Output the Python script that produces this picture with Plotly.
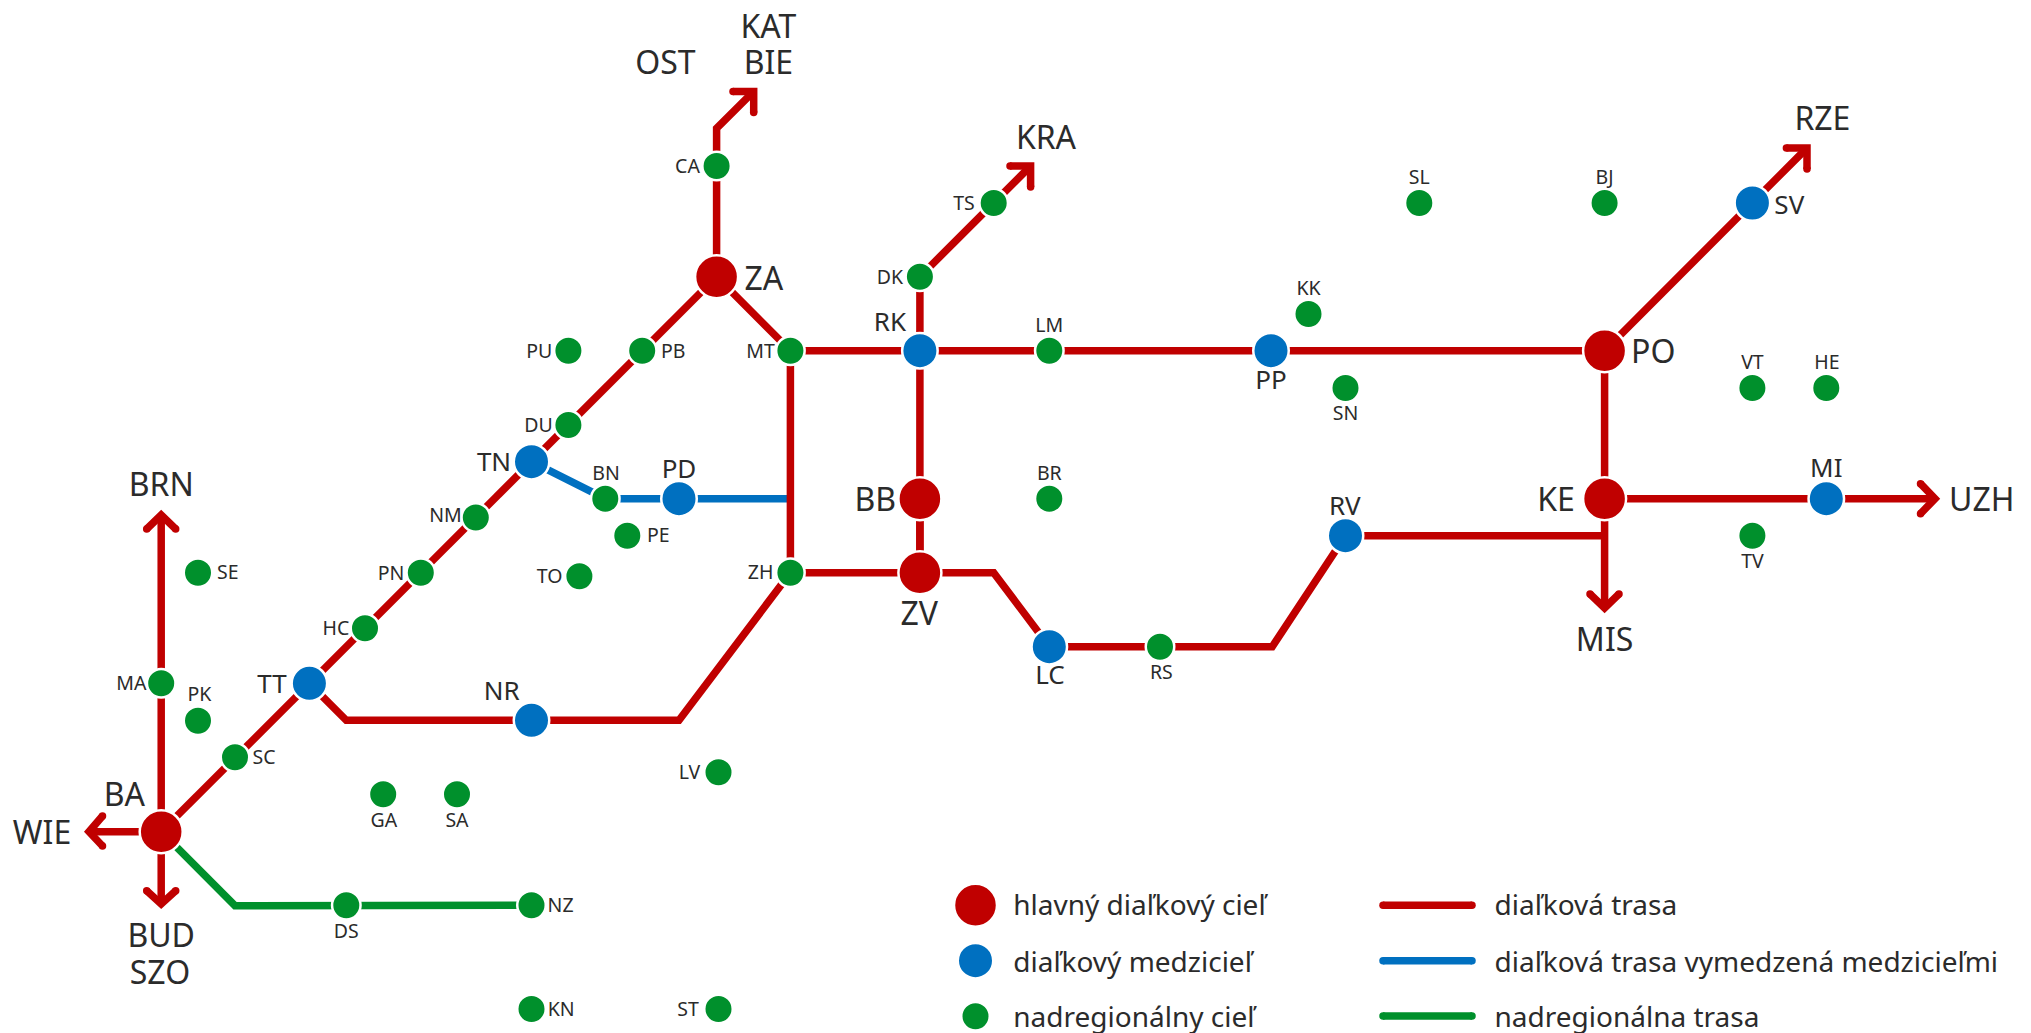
import plotly.graph_objects as go

RED, BLUE, GREEN, INK = "#C00000", "#0070C0", "#00902C", "#2B2B2B"
FONT = "Noto Sans"

# --- nodes: code, x, y (map coordinates)
main_names = ["BA", "ZA", "BB", "ZV", "PO", "KE"]
main_x = [161.2, 716.6, 919.9, 919.9, 1604.6, 1604.6]
main_y = [831.7, 276.7, 498.7, 572.7, 350.7, 498.7]

mid_names = ["TT", "TN", "PD", "NR", "RK", "PP", "LC", "RV", "SV", "MI"]
mid_x = [309.4, 531.5, 679.0, 531.5, 919.9, 1271.0, 1049.3, 1345.5, 1752.4, 1826.3]
mid_y = [683.3, 461.7, 498.7, 720.3, 350.7, 350.7, 646.7, 535.7, 203.0, 498.7]

reg_names = ["CA", "TS", "DK", "PU", "PB", "MT", "DU", "BN", "NM", "PN", "HC", "SC", "MA", "PK", "SE",
             "PE", "TO", "ZH", "LV", "GA", "SA", "DS", "NZ", "KN", "ST", "LM", "BR", "RS", "KK", "SN",
             "SL", "BJ", "VT", "HE", "TV"]
reg_x = [716.6, 993.7, 919.9, 568.4, 642.2, 790.4, 568.4, 605.3, 475.8, 420.8, 365.0, 235.0, 161.2, 198.0, 198.0,
         627.3, 579.4, 790.4, 718.5, 383.2, 457.0, 346.3, 531.5, 531.5, 718.5, 1049.3, 1049.3, 1160.0, 1308.5, 1345.5,
         1419.3, 1604.6, 1752.4, 1826.3, 1752.4]
reg_y = [166.0, 203.0, 276.7, 350.7, 350.7, 350.7, 425.0, 498.7, 517.5, 572.7, 628.3, 757.3, 683.3, 720.7, 572.7,
         535.7, 576.3, 572.7, 772.3, 794.3, 794.3, 905.3, 905.3, 1009.0, 1009.0, 350.7, 498.7, 646.7, 314.0, 388.0,
         203.0, 203.0, 388.0, 388.0, 535.7]

# --- routes (None separates polylines)
red_x = [161.2, 716.6, None, 716.6, 716.6, 753.7, None, 716.6, 790.4, 790.4, 679.0, 346.3, 309.4, None,
         790.4, 1604.6, 1807.0, None, 919.9, 919.9, 1030.6, None, 919.9, 919.9, None,
         790.4, 919.9, 993.7, 1049.3, 1272.2, 1345.5, 1604.6, None, 1604.6, 1604.6, None,
         1604.6, 1935.0, None, 161.2, 161.2, None, 161.2, 89.0, None, 161.2, 161.2]
red_y = [831.7, 276.7, None, 276.7, 128.4, 91.4, None, 276.7, 350.7, 572.7, 720.3, 720.3, 683.3, None,
         350.7, 350.7, 148.0, None, 572.7, 276.7, 166.0, None, 498.7, 572.7, None,
         572.7, 572.7, 572.7, 646.7, 646.7, 535.7, 535.7, None, 350.7, 608.0, None,
         498.7, 498.7, None, 831.7, 515.0, None, 831.7, 831.7, None, 831.7, 904.0]
blue_x = [531.5, 605.3, 679.0, 790.4]
blue_y = [461.7, 498.7, 498.7, 498.7]
green_x = [161.2, 235.0, 531.5]
green_y = [831.7, 905.7, 905.3]

# --- arrow heads: barb, tip, barb
head_x = [[733.0, 753.7, 753.7], [1010.0, 1030.6, 1030.6], [1786.4, 1807.0, 1807.0], [1920.5, 1935.0, 1920.5],
          [1590.0, 1604.6, 1619.0], [146.7, 161.2, 175.7], [102.5, 89.0, 102.5], [146.7, 161.2, 175.7]]
head_y = [[91.4, 91.4, 112.4], [166.0, 166.0, 187.0], [148.0, 148.0, 169.0], [483.7, 498.7, 513.7],
          [594.0, 608.0, 594.0], [529.0, 515.0, 529.0], [816.0, 831.7, 846.0], [890.7, 904.0, 890.7]]

# --- labels
big_text = ["KAT", "BIE", "OST", "ZA", "RK", "TN", "PD", "BB", "BRN", "KRA", "RZE", "PP", "PO", "RV", "KE", "MI", "UZH",
            "ZV", "TT", "NR", "BA", "WIE", "BUD", "SZO", "MIS", "LC", "SV"]
big_x = [768.4, 768.4, 665.5, 763.8, 890.0, 494.0, 679.0, 875.2, 161.2, 1046.0, 1822.4, 1271.0, 1653.2, 1344.8, 1556.0,
         1826.3, 1981.8, 919.2, 271.9, 501.7, 124.3, 42.0, 161.2, 159.9, 1604.6, 1050.0, 1789.3]
big_y = [25.7, 62.3, 62.3, 277.7, 320.8, 460.5, 467.2, 499.0, 484.3, 136.7, 118.3, 378.5, 351.3, 504.2, 499.0,
         466.5, 499.0, 613.3, 682.5, 689.8, 794.3, 831.7, 935.0, 972.3, 639.0, 673.5, 203.0]
big_size = [32, 32, 32, 32, 26, 26, 26, 32, 32, 32, 32, 26, 32, 26, 32, 26, 32, 32, 26, 26, 32, 32, 32, 32, 32, 26, 26]

small_text = ["CA", "TS", "DK", "PU", "PB", "MT", "DU", "BN", "NM", "SL", "BJ", "KK", "LM", "SN", "VT", "HE", "BR",
              "SE", "PE", "PN", "TO", "ZH", "HC", "MA", "PK", "SC", "LV", "GA", "SA", "NZ", "DS", "KN", "ST", "TV", "RS"]
small_x = [687.5, 964.0, 890.0, 539.2, 673.2, 760.6, 538.6, 606.0, 445.4, 1419.3, 1604.6, 1308.5, 1049.3, 1345.5,
           1752.4, 1827.0, 1049.3, 227.9, 658.3, 391.0, 549.6, 760.6, 336.0, 131.4, 199.4, 264.1, 689.4, 383.9, 457.0,
           560.6, 346.3, 561.2, 688.0, 1752.4, 1161.4]
small_y = [166.0, 203.0, 276.7, 351.0, 351.0, 351.0, 425.0, 472.7, 515.0, 176.7, 176.7, 288.3, 325.0, 413.3,
           362.0, 362.0, 472.7, 572.3, 535.3, 572.7, 576.3, 572.3, 628.3, 683.3, 694.0, 757.3, 772.0, 820.0, 820.0,
           905.0, 931.0, 1009.0, 1009.0, 560.7, 671.7]

# --- legend
legend_marker_x = [975.5, 975.5, 975.5]
legend_marker_y = [905.3, 960.7, 1016.3]
legend_left = ["hlavný diaľkový cieľ", "diaľkový medzicieľ", "nadregionálny cieľ"]
legend_right = ["diaľková trasa", "diaľková trasa vymedzená medzicieľmi", "nadregionálna trasa"]
legend_text_y = [905.0, 961.7, 1017.0]
legend_line_x = [1383.0, 1472.0]
legend_line_y = [905.3, 960.7, 1016.0]
legend_left_x = 1013.3
legend_right_x = 1494.5

LW = 7.5
fig = go.Figure()


def line(xs, ys, color):
    fig.add_trace(go.Scatter(x=xs, y=ys, mode="lines", line=dict(color=color, width=LW, simplify=False),
                             hoverinfo="skip", showlegend=False))


def dots(xs, ys, color, size, halo=2.5):
    fig.add_trace(go.Scatter(x=xs, y=ys, mode="markers", hoverinfo="skip", showlegend=False,
                             marker=dict(color=color, size=size, line=dict(color="white", width=halo))))


def texts(xs, ys, labels, size, pos="middle center", dy=0):
    fig.add_trace(go.Scatter(x=xs, y=[v + dy for v in ys], mode="text", text=labels, textposition=pos,
                             hoverinfo="skip", showlegend=False,
                             textfont=dict(family=FONT, size=size, color=INK)))


line(blue_x, blue_y, BLUE)
line(green_x, green_y, GREEN)
line(red_x, red_y, RED)
for hx, hy in zip(head_x, head_y):
    line(hx, hy, RED)
    dots([hx[0], hx[2]], [hy[0], hy[2]], RED, LW, 0)

dots(reg_x, reg_y, GREEN, 28.5)
dots(mid_x, mid_y, BLUE, 35.5)
dots(main_x, main_y, RED, 43)

texts(big_x, big_y, big_text, big_size, dy=4)
texts(small_x, small_y, small_text, 19.5, dy=2)

dots(legend_marker_x[:1], legend_marker_y[:1], RED, 43)
dots(legend_marker_x[1:2], legend_marker_y[1:2], BLUE, 35.5)
dots(legend_marker_x[2:], legend_marker_y[2:], GREEN, 28.5)
for ly, c in zip(legend_line_y, [RED, BLUE, GREEN]):
    line(legend_line_x, [ly, ly], c)
    dots(legend_line_x, [ly, ly], c, LW, 0)
texts([legend_left_x] * 3, legend_text_y, legend_left, 28, "middle right", dy=3)
texts([legend_right_x] * 3, legend_text_y, legend_right, 28, "middle right", dy=3)

fig.update_layout(
    width=2031, height=1033, margin=dict(l=0, r=0, t=0, b=0),
    paper_bgcolor="white", plot_bgcolor="white", showlegend=False,
    xaxis=dict(range=[0, 2031], visible=False, fixedrange=True),
    yaxis=dict(range=[1033, 0], visible=False, fixedrange=True),
)
fig.write_html("out.html", config={"displayModeBar": False},
               post_script="document.body.style.margin='0';document.body.style.overflow='hidden';")
